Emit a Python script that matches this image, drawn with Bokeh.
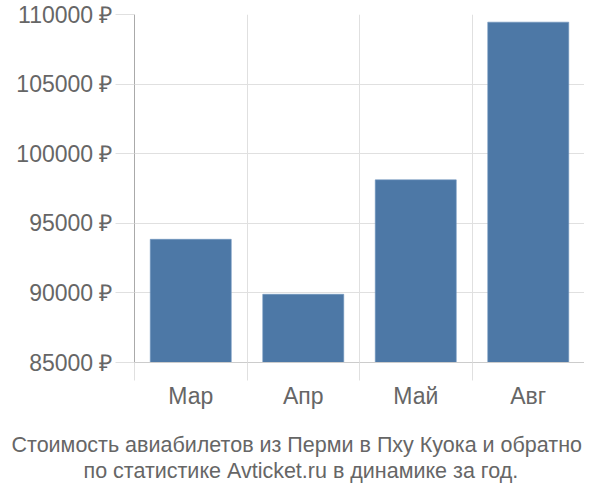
from bokeh.plotting import figure
from bokeh.models import FixedTicker, PrintfTickFormatter, Title, Range1d
from bokeh.embed import file_html
from bokeh.resources import INLINE

months = ["Мар", "Апр", "Май", "Авг"]
prices = [93850, 89900, 98120, 109450]
y_ticks = [85000, 90000, 95000, 100000, 105000, 110000]
title_lines = ["Стоимость авиабилетов из Перми в Пху Куока и обратно",
               "по статистике Avticket.ru в динамике за год."]

FONT = "Liberation Sans"
TXT = "#666666"
GRID = "#e0e0e0"

centers = [i + 0.5 for i in range(len(months))]
bounds = list(range(len(months) + 1))

W, H = 584, 484
LEFT = 134
p = figure(width=W, height=H, output_backend="svg", toolbar_location=None,
           x_range=Range1d(0, len(months)), y_range=Range1d(y_ticks[0], y_ticks[-1]),
           min_border_left=LEFT, min_border_right=0, min_border_top=14, min_border_bottom=H - 362)
p.outline_line_color = None
p.background_fill_color = "white"

p.vbar(x=centers, top=prices, bottom=y_ticks[0], width=0.72,
       fill_color="#4d78a6", line_color="#6f93bd", line_width=0.6)

# x axis
p.xaxis.ticker = FixedTicker(ticks=centers, minor_ticks=bounds)
p.xaxis.major_label_overrides = {c: m for c, m in zip(centers, months)}
p.xaxis.major_tick_out = 0
p.xaxis.major_tick_in = 0
p.xaxis.minor_tick_out = 18
p.xaxis.minor_tick_in = 0
p.xaxis.minor_tick_line_color = GRID
p.xaxis.axis_line_color = "#cccccc"
p.xaxis.major_label_text_font = FONT
p.xaxis.major_label_text_font_size = "23px"
p.xaxis.major_label_text_color = TXT
p.xaxis.major_label_standoff = 2

# y axis
p.yaxis.ticker = FixedTicker(ticks=y_ticks)
p.yaxis.formatter = PrintfTickFormatter(format="%d ₽")
p.yaxis.major_tick_out = 19
p.yaxis.major_tick_in = 0
p.yaxis.minor_tick_line_color = None
p.yaxis.major_tick_line_color = GRID
p.yaxis.axis_line_color = "#aaaaaa"
p.yaxis.major_label_text_font = FONT
p.yaxis.major_label_text_font_size = "23px"
p.yaxis.major_label_text_color = TXT
p.yaxis.major_label_standoff = 3

p.xgrid.ticker = FixedTicker(ticks=bounds)
p.xgrid.grid_line_color = GRID
p.ygrid.grid_line_color = GRID

# spacer between axis labels and the caption
p.add_layout(Title(text=" ", standoff=0, text_font_size="16px", text_color="white"), "below")
starts = [11, 83]
for line, start in zip(title_lines, starts):
    p.add_layout(Title(text=line, align="left", offset=start - LEFT, standoff=0,
                       vertical_align="bottom",
                       text_font=FONT, text_font_size="21.5px",
                       text_font_style="normal", text_color=TXT), "below")

open("out.html", "w").write(file_html(p, INLINE))
